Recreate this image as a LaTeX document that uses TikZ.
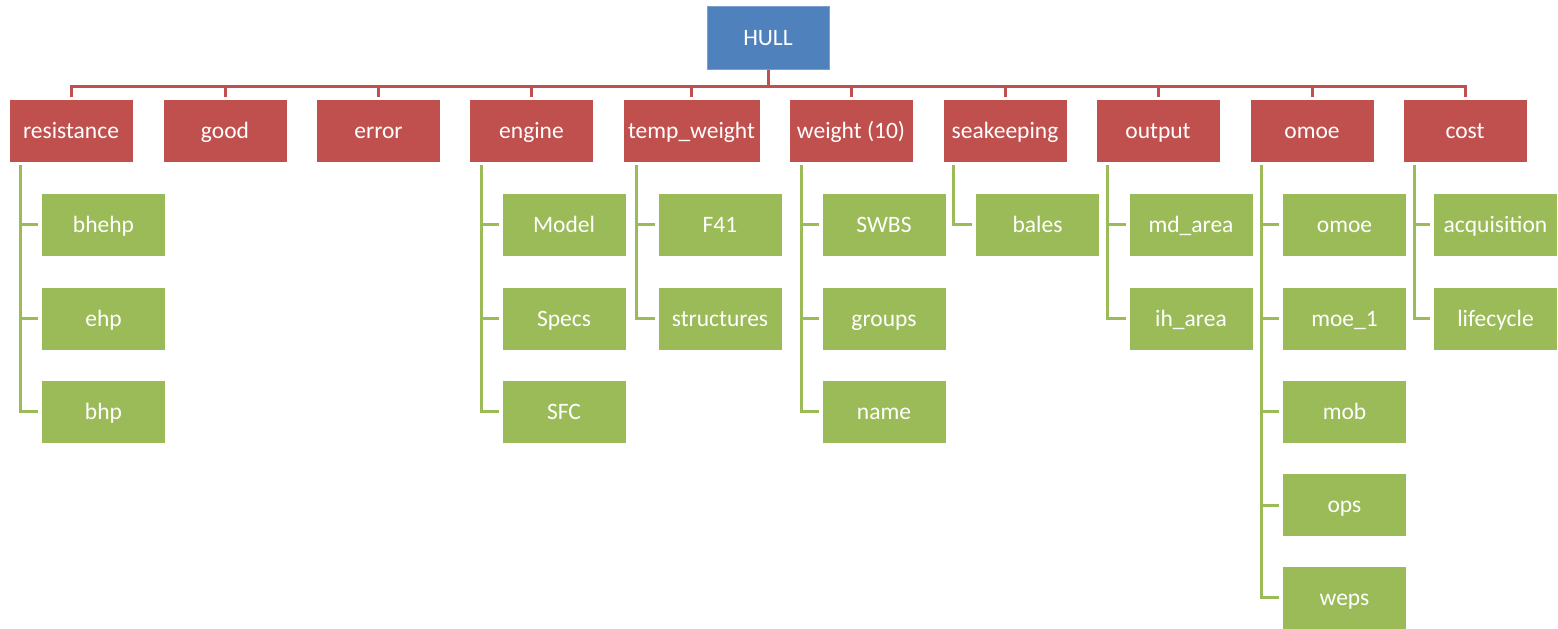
\documentclass[tikz,border=0pt]{standalone}
\usepackage{fontspec}
\setmainfont{Carlito}
\definecolor{hullblue}{HTML}{4F81BD}
\definecolor{accred}{HTML}{C0504D}
\definecolor{accgreen}{HTML}{9BBB59}
\begin{document}
\begin{tikzpicture}[x=1pt,y=-1pt,
  box/.style={anchor=north west, minimum height=62pt, minimum width=123pt,
    inner sep=0pt, outer sep=0pt, text=white, text height=16pt, text depth=1pt,
    font=\fontsize{23.5}{28}\selectfont},
  topbox/.style={box, fill=hullblue, draw=hullblue!75!white, line width=0.8pt, minimum width=122pt, minimum height=63pt},
  parbox/.style={box, fill=accred},
  kidbox/.style={box, fill=accgreen},
  redline/.style={draw=accred, line width=3pt, shorten >=3pt},
  greenline/.style={draw=accgreen, line width=3pt, shorten >=4pt}]
\useasboundingbox (0,0) rectangle (1558,629);

\node[topbox] (hull) at (707,6.5) {HULL};

% parents
\node[parbox] (resistance) at (9.5,100) {resistance};
\node[parbox] (good) at (163.5,100) {good};
\node[parbox] (error) at (317,100) {error};
\node[parbox] (engine) at (470,100) {engine};
\node[parbox, minimum width=136pt] (tempw) at (623.5,100) {temp\_weight};
\node[parbox] (weight) at (789.5,100) {weight (10)};
\node[parbox] (seak) at (943.5,100) {seakeeping};
\node[parbox] (output) at (1096.5,100) {output};
\node[parbox] (omoe) at (1250.5,100) {omoe};
\node[parbox] (cost) at (1403.5,100) {cost};

% children
\node[kidbox] (bhehp) at (42,193.5) {bhehp};
\node[kidbox] (ehp) at (42,287.5) {ehp};
\node[kidbox] (bhp) at (42,380.5) {bhp};

\node[kidbox] (model) at (502.5,193.5) {Model};
\node[kidbox] (specs) at (502.5,287.5) {Specs};
\node[kidbox] (sfc) at (502.5,380.5) {SFC};

\node[kidbox] (f41) at (658.5,193.5) {F41};
\node[kidbox] (structures) at (658.5,287.5) {structures};

\node[kidbox] (swbs) at (822.5,193.5) {SWBS};
\node[kidbox] (groups) at (822.5,287.5) {groups};
\node[kidbox] (name) at (822.5,380.5) {name};

\node[kidbox] (bales) at (976,193.5) {bales};

\node[kidbox] (mdarea) at (1129.5,193.5) {md\_area};
\node[kidbox] (iharea) at (1129.5,287.5) {ih\_area};

\node[kidbox] (omoek) at (1283,193.5) {omoe};
\node[kidbox] (moe1) at (1283,287.5) {moe\_1};
\node[kidbox] (mob) at (1283,380.5) {mob};
\node[kidbox] (ops) at (1283,474) {ops};
\node[kidbox] (weps) at (1283,566.5) {weps};

\node[kidbox] (acq) at (1434,193.5) {acquisition};
\node[kidbox] (life) at (1434,287.5) {lifecycle};

% red bus connectors
\coordinate (bus) at (0,86);
\foreach \p in {resistance,good,error,engine,tempw,weight,seak,output,omoe,cost}
  \draw[redline] (hull.south) -- (hull.south |- bus) -| (\p.north);

% green connectors
\foreach \c in {bhehp,ehp,bhp}
  \draw[greenline] ([xshift=11pt,yshift=-3pt]resistance.south west) |- (\c.west);
\foreach \c in {model,specs,sfc}
  \draw[greenline] ([xshift=11pt,yshift=-3pt]engine.south west) |- (\c.west);
\foreach \c in {f41,structures}
  \draw[greenline] ([xshift=13pt,yshift=-3pt]tempw.south west) |- (\c.west);
\foreach \c in {swbs,groups,name}
  \draw[greenline] ([xshift=12pt,yshift=-3pt]weight.south west) |- (\c.west);
\foreach \c in {bales}
  \draw[greenline] ([xshift=10pt,yshift=-3pt]seak.south west) |- (\c.west);
\foreach \c in {mdarea,iharea}
  \draw[greenline] ([xshift=11pt,yshift=-3pt]output.south west) |- (\c.west);
\foreach \c in {omoek,moe1,mob,ops,weps}
  \draw[greenline] ([xshift=11pt,yshift=-3pt]omoe.south west) |- (\c.west);
\foreach \c in {acq,life}
  \draw[greenline] ([xshift=11pt,yshift=-3pt]cost.south west) |- (\c.west);
\end{tikzpicture}
\end{document}
